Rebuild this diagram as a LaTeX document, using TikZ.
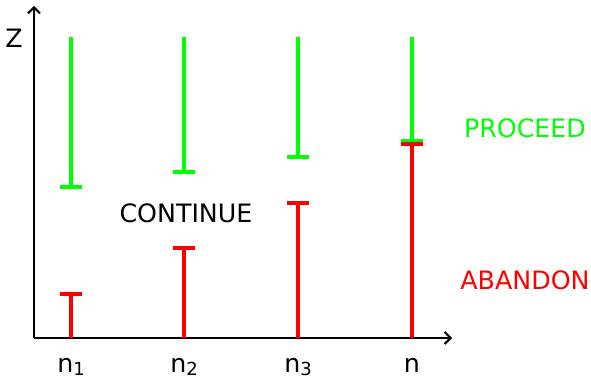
\documentclass[tikz,border=0pt]{standalone}
\usepackage{fontspec}
\setmainfont{DejaVu Sans}
\usetikzlibrary{arrows.meta}
\newcommand{\mysub}[1]{\raisebox{-0.25ex}{\fontsize{18}{18}\selectfont #1}}
\begin{document}
\begin{tikzpicture}[x=1pt,y=-1pt,
  axis/.style={line width=2.2pt,-{Straight Barb[length=6pt,width=12pt,line width=2pt]}},
  bar/.style={line width=3.6pt},
  lbl/.style={font=\fontsize{25.3}{28}\selectfont,inner sep=0pt}]
\useasboundingbox (0,0) rectangle (591,379);
\coordinate (O) at (34,338);
\coordinate (ytip) at (34,6);
\coordinate (xtip) at (452,338);
\draw[axis] (O) -- (ytip);
\draw[axis] (O) -- (xtip);
\node[lbl] (Z) at (14,38) {Z};
% green (proceed) bars
\foreach \name/\x/\y in {g1/71/187, g2/184/172, g3/298/157, g4/412/141}{
  \coordinate (\name top) at (\x,37);
  \coordinate (\name bot) at (\x,\y);
  \coordinate (\name l) at (\x-11,\y);
  \coordinate (\name r) at (\x+11,\y);
  \draw[bar,green] (\name top) -- (\name bot);
  \draw[bar,green] (\name l) -- (\name r);
}
% red (abandon) bars
\foreach \name/\x/\y in {r1/71/294, r2/184/248, r3/298/203, r4/412/144}{
  \coordinate (\name base) at (\x,338);
  \coordinate (\name top) at (\x,\y);
  \coordinate (\name l) at (\x-11,\y);
  \coordinate (\name r) at (\x+11,\y);
  \draw[bar,red] (\name base) -- (\name top);
  \draw[bar,red] (\name l) -- (\name r);
}
\node[lbl] (cont) at (186,213) {CONTINUE};
\node[lbl,text=green] (proc) at (525,128) {PROCEED};
\node[lbl,text=red] (aban) at (525,280) {ABANDON};
\node[lbl,anchor=base] (n1) at (71,372) {n\mysub{1}};
\node[lbl,anchor=base] (n2) at (184,372) {n\mysub{2}};
\node[lbl,anchor=base] (n3) at (298,372) {n\mysub{3}};
\node[lbl,anchor=base] (n4) at (412,372) {n};
\end{tikzpicture}
\end{document}
